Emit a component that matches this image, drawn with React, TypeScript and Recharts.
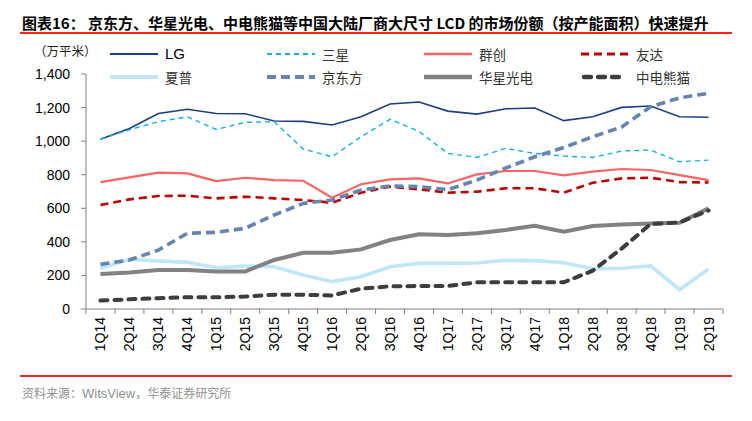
import { LineChart, Line, XAxis, YAxis, Legend } from 'recharts'

const quarters = ['1Q14', '2Q14', '3Q14', '4Q14', '1Q15', '2Q15', '3Q15', '4Q15', '1Q16', '2Q16', '3Q16', '4Q16', '1Q17', '2Q17', '3Q17', '4Q17', '1Q18', '2Q18', '3Q18', '4Q18', '1Q19', '2Q19']

const lg = [1012, 1075, 1165, 1190, 1165, 1163, 1120, 1118, 1096, 1145, 1221, 1233, 1179, 1161, 1193, 1197, 1122, 1145, 1201, 1209, 1145, 1142]
const samsung = [1012, 1068, 1116, 1145, 1070, 1112, 1116, 953, 907, 1026, 1130, 1058, 927, 903, 957, 927, 911, 903, 941, 947, 877, 887]
const innolux = [756, 784, 812, 808, 762, 782, 768, 764, 663, 743, 772, 778, 748, 802, 822, 822, 796, 818, 834, 828, 798, 768]
const auo = [619, 653, 673, 675, 659, 669, 659, 649, 633, 693, 729, 713, 693, 699, 719, 719, 693, 752, 778, 782, 756, 754]
const sharp = [242, 296, 286, 278, 246, 256, 252, 202, 163, 192, 252, 272, 272, 274, 290, 288, 276, 240, 243, 257, 115, 238]
const boe = [266, 292, 351, 451, 457, 481, 560, 629, 649, 709, 733, 729, 711, 768, 840, 907, 962, 1026, 1084, 1205, 1258, 1285]
const csot = [208, 218, 232, 232, 224, 224, 292, 335, 335, 355, 411, 445, 441, 451, 471, 496, 461, 494, 504, 510, 514, 600]
const panda = [50, 58, 64, 70, 70, 74, 85, 85, 81, 121, 135, 137, 137, 159, 159, 159, 159, 228, 360, 506, 516, 587]

const yTicks = [0, 200, 400, 600, 800, 1000, 1200, 1400]

const data = quarters.map((q, i) => ({
  q,
  lg: lg[i],
  samsung: samsung[i],
  innolux: innolux[i],
  auo: auo[i],
  sharp: sharp[i],
  boe: boe[i],
  csot: csot[i],
  panda: panda[i]
}))

// legend order = row by row, draw order = later on top
const series = [
  { key: 'lg', name: 'LG', color: '#1b3f86', width: 1.6, dash: undefined, cap: 'butt' },
  { key: 'samsung', name: '三星', color: '#12aef0', width: 1.4, dash: '5 4', cap: 'butt' },
  { key: 'innolux', name: '群创', color: '#ff6262', width: 2.2, dash: undefined, cap: 'butt' },
  { key: 'auo', name: '友达', color: '#c00000', width: 2.6, dash: '8 5', cap: 'butt' },
  { key: 'sharp', name: '夏普', color: '#bfe6f9', width: 3.6, dash: undefined, cap: 'butt' },
  { key: 'boe', name: '京东方', color: '#6484b1', width: 3.6, dash: '9 5', cap: 'butt' },
  { key: 'csot', name: '华星光电', color: '#828282', width: 4, dash: undefined, cap: 'butt' },
  { key: 'panda', name: '中电熊猫', color: '#3d3d3d', width: 4, dash: '7 7', cap: 'round' }
]

const W = 752
const H = 421
const M = { top: 74, right: 29, bottom: 62, left: 26 }
const Y_AXIS_W = 60
const halfBand = (W - M.left - M.right - Y_AXIS_W) / quarters.length / 2

const axisColor = '#808080'
const latin = '"Liberation Sans", Arial, "Noto Sans CJK SC", sans-serif'
const cjk = '"Noto Sans CJK SC", "Liberation Sans", sans-serif'

const XTick = (props: any) => {
  const { x, y, payload } = props
  const isLast = payload.value === quarters[quarters.length - 1]
  const ty = y + 8
  return (
    <g>
      <line x1={x - halfBand} y1={y} x2={x - halfBand} y2={y + 5} stroke={axisColor} />
      {isLast && <line x1={x + halfBand} y1={y} x2={x + halfBand} y2={y + 5} stroke={axisColor} />}
      <text
        x={x}
        y={ty}
        transform={`rotate(-90 ${x} ${ty})`}
        textAnchor='end'
        dominantBaseline='central'
        fontSize={14}
        fontFamily={latin}
        fill='#000'
      >
        {payload.value}
      </text>
    </g>
  )
}

const renderLegend = () => (
  <div style={{ display: 'grid', gridTemplateColumns: '157px 157px 157px 157px', rowGap: 0 }}>
    {series.map((s) => (
      <div key={s.key} style={{ display: 'flex', alignItems: 'center', height: 22.5 }}>
        <svg width={48} height={8}>
          <line
            x1={s.cap === 'round' ? 3 : 0}
            y1={4}
            x2={s.cap === 'round' ? 45 : 48}
            y2={4}
            stroke={s.color}
            strokeWidth={s.width + 0.4}
            strokeDasharray={s.dash}
            strokeLinecap={s.cap as any}
          />
        </svg>
        <span
          style={{
            marginLeft: 7,
            fontSize: s.name === 'LG' ? 15 : 13.5,
            fontFamily: s.name === 'LG' ? latin : cjk,
            color: s.name === 'LG' ? '#000' : '#333',
            lineHeight: '16px'
          }}
        >
          {s.name}
        </span>
      </div>
    ))}
  </div>
)

export default function App() {
  return (
    <div style={{ position: 'absolute', left: 0, top: 0, width: W, height: H, background: '#fff' }}>
      <div
        style={{
          position: 'absolute',
          left: 22,
          top: 12,
          fontFamily: cjk,
          fontWeight: 700,
          fontSize: 15,
          lineHeight: '22px',
          whiteSpace: 'nowrap',
          color: '#000'
        }}
      >
        图表16：&nbsp;京东方、华星光电、中电熊猫等中国大陆厂商大尺寸 LCD 的市场份额（按产能面积）快速提升
      </div>
      <div style={{ position: 'absolute', left: 20, top: 32, width: 712, height: 1.5, background: '#e8291c' }} />
      <div
        style={{
          position: 'absolute',
          left: 34,
          top: 42,
          fontFamily: cjk,
          fontSize: 12.5,
          lineHeight: '18px',
          color: '#222',
          whiteSpace: 'nowrap'
        }}
      >
        （万平米）
      </div>
      <div style={{ position: 'absolute', left: 0, top: 0 }}>
        <LineChart width={W} height={H} data={data} margin={M}>
          <XAxis
            dataKey='q'
            interval={0}
            height={50}
            tickSize={0}
            tickMargin={0}
            tickLine={false}
            axisLine={{ stroke: axisColor }}
            padding={{ left: halfBand, right: halfBand }}
            tick={<XTick />}
          />
          <YAxis
            width={Y_AXIS_W}
            domain={[0, 1400]}
            ticks={yTicks}
            interval={0}
            tickSize={5}
            tickMargin={11}
            axisLine={{ stroke: axisColor }}
            tickLine={{ stroke: axisColor }}
            tick={{ fill: '#000', fontSize: 14, fontFamily: latin }}
            tickFormatter={(v: number) => v.toLocaleString('en-US')}
          />
          <Legend
            layout='vertical'
            align='center'
            verticalAlign='middle'
            wrapperStyle={{ top: 43, left: 110, width: 640 }}
            content={renderLegend}
          />
          {series.map((s) => (
            <Line
              key={s.key}
              dataKey={s.key}
              name={s.name}
              type='linear'
              stroke={s.color}
              strokeWidth={s.width}
              strokeDasharray={s.dash}
              strokeLinecap={s.cap as any}
              dot={false}
              activeDot={false}
              isAnimationActive={false}
            />
          ))}
        </LineChart>
      </div>
      <div style={{ position: 'absolute', left: 20, top: 375, width: 712, height: 1.5, background: '#e8291c' }} />
      <div
        style={{
          position: 'absolute',
          left: 22,
          top: 384,
          fontFamily: cjk,
          fontSize: 12,
          lineHeight: '18px',
          color: '#8f8f8f',
          whiteSpace: 'nowrap'
        }}
      >
        资料来源：<span style={{ fontFamily: latin, fontSize: 13 }}>WitsView</span>，华泰证券研究所
      </div>
    </div>
  )
}
